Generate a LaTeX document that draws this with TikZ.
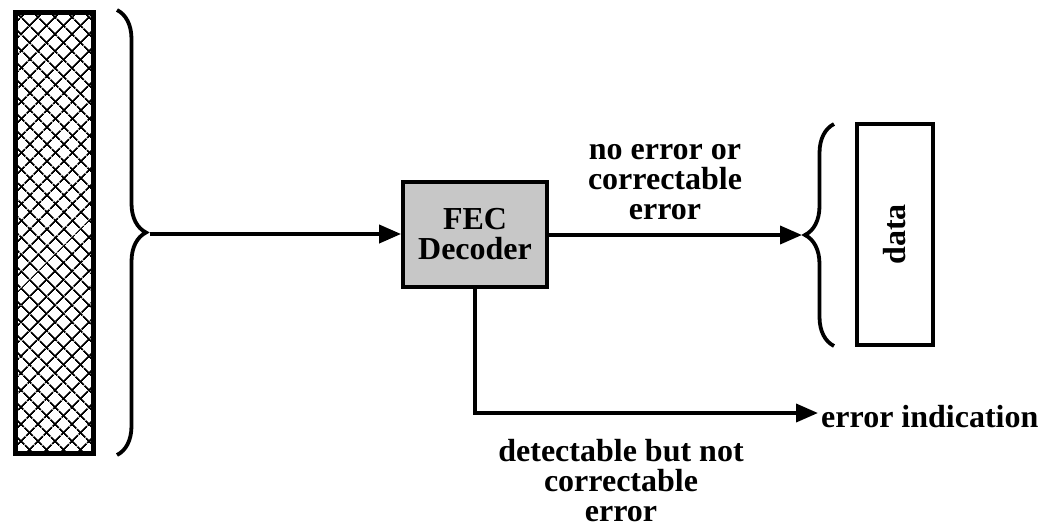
\documentclass[tikz,border=0pt]{standalone}
\usepackage{fontspec}
\setmainfont{Liberation Serif}
\usetikzlibrary{arrows.meta,patterns.meta,decorations.pathreplacing}
\begin{document}
\begin{tikzpicture}[x=1pt,y=1pt,
  line/.style={line width=3.8pt},
  arr/.style={line, -{Triangle[length=22pt,width=18pt]}},
  lbl/.style={font=\fontsize{32}{30}\selectfont\bfseries, align=center, inner sep=0pt},
  bracestyle/.style={line width=3.8pt, decorate, decoration={brace, amplitude=#1}}
]
\useasboundingbox (0,0) rectangle (1051,-528);
% hatched frame
\node[draw, line width=5pt, minimum width=78pt, minimum height=441pt, inner sep=0pt,
  postaction={pattern={Lines[angle=45,distance=13pt,line width=1.9pt]}},
  postaction={pattern={Lines[angle=-45,distance=13pt,line width=1.9pt]}}]
  (frame) at (54,-232.5) {};
% left brace
\coordinate (lbtop) at (117,-10);
\coordinate (lbbot) at (117,-455);
\draw[bracestyle=29pt] (lbtop) -- (lbbot);
\coordinate (lb) at (150,-234);
% FEC decoder
\node[draw, line width=3.8pt, fill=black!22, minimum width=144pt, minimum height=105pt, inner sep=0pt, lbl]
  (fec) at (475,-234.5) {FEC\\Decoder};
% right brace
\coordinate (rbbot) at (834,-346);
\coordinate (rbtop) at (834,-124);
\draw[bracestyle=29pt] (rbbot) -- (rbtop);
\coordinate (rb) at (802,-235);
% data box
\node[draw, line width=3.8pt, minimum width=76pt, minimum height=221pt, inner sep=0pt]
  (data) at (895,-234.5) {};
\node[lbl, rotate=90] (datatxt) at (data.center) {data};
% connectors
\draw[arr] (lb) -- (lb -| fec.west);
\draw[arr] (fec.east |- rb) -- (rb);
\node[lbl, anchor=base west] (errind) at (821,-427) {error indication};
\coordinate (eiend) at (818,-413);
\draw[arr] (fec.south) |- (eiend);
% labels
\node[lbl] (noerr) at (665,-182) {no error or\\correctable\\error};
\node[lbl] (detect) at (621,-481) {detectable but not\\correctable\\error};
\end{tikzpicture}
\end{document}
